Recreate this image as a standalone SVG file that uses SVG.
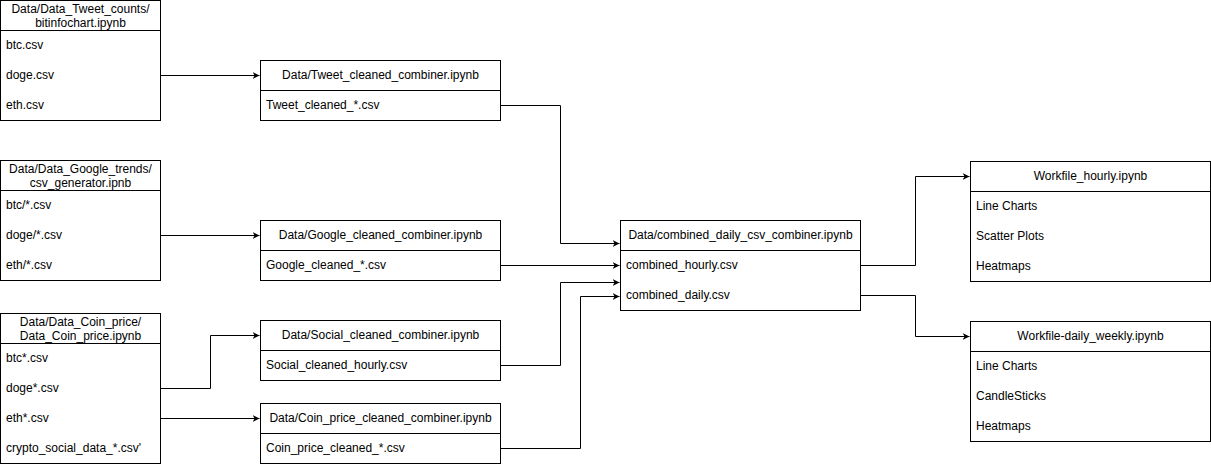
<svg xmlns="http://www.w3.org/2000/svg" width="1211" height="464" viewBox="0 0 1211 464">
<style>
.box{fill:#fff;stroke:#000;stroke-width:1}
.sep{stroke:#000;stroke-width:1}
.t{font-family:"Liberation Sans",Arial,Helvetica,sans-serif;font-size:12px;fill:#000}
.c{text-anchor:middle}
.e{fill:none;stroke:#000;stroke-width:1}
</style>
<defs>
<marker id="ah" viewBox="0 0 10 10" refX="10" refY="5" markerWidth="7" markerHeight="7" markerUnits="userSpaceOnUse" orient="auto">
<path d="M0,0 L10,5 L0,10 L3,5 Z" fill="#000"/>
</marker>
</defs>
<rect width="1211" height="464" fill="#fff"/>
<g id="connectors">
<path class="e" d="M160.5,75.5 H259.5" marker-end="url(#ah)"/>
<path class="e" d="M160.5,235.5 H259.5" marker-end="url(#ah)"/>
<path class="e" d="M160.5,388.5 H210.5 V335.5 H259.5" marker-end="url(#ah)"/>
<path class="e" d="M160.5,418.5 H259.5" marker-end="url(#ah)"/>
<path class="e" d="M500.5,105.5 H560.5 V243.5 H619.5" marker-end="url(#ah)"/>
<path class="e" d="M500.5,265.5 H619.5" marker-end="url(#ah)"/>
<path class="e" d="M500.5,365.5 H560.5 V282.5 H619.5" marker-end="url(#ah)"/>
<path class="e" d="M500.5,448.5 H580.5 V296.5 H619.5" marker-end="url(#ah)"/>
<path class="e" d="M860.5,265.5 H915.5 V176.5 H969.5" marker-end="url(#ah)"/>
<path class="e" d="M860.5,295.5 H915.5 V336.5 H969.5" marker-end="url(#ah)"/>
</g>
<g id="node-tweet-counts">
<rect class="box" x="0.5" y="0.5" width="160" height="120"/>
<line class="sep" x1="0.5" y1="30.5" x2="160.5" y2="30.5"/>
<text class="t c" x="80.5" y="13">Data/Data_Tweet_counts/</text>
<text class="t c" x="80.5" y="27">bitinfochart.ipynb</text>
<text class="t" x="6" y="49">btc.csv</text>
<text class="t" x="6" y="79">doge.csv</text>
<text class="t" x="6" y="109">eth.csv</text>
</g>
<g id="node-google-trends">
<rect class="box" x="0.5" y="160.5" width="160" height="120"/>
<line class="sep" x1="0.5" y1="190.5" x2="160.5" y2="190.5"/>
<text class="t c" x="80.5" y="173">Data/Data_Google_trends/</text>
<text class="t c" x="80.5" y="187">csv_generator.ipnb</text>
<text class="t" x="6" y="209">btc/*.csv</text>
<text class="t" x="6" y="239">doge/*.csv</text>
<text class="t" x="6" y="269">eth/*.csv</text>
</g>
<g id="node-coin-price">
<rect class="box" x="0.5" y="313.5" width="160" height="150"/>
<line class="sep" x1="0.5" y1="343.5" x2="160.5" y2="343.5"/>
<text class="t c" x="80.5" y="326">Data/Data_Coin_price/</text>
<text class="t c" x="80.5" y="340">Data_Coin_price.ipynb</text>
<text class="t" x="6" y="362">btc*.csv</text>
<text class="t" x="6" y="392">doge*.csv</text>
<text class="t" x="6" y="422">eth*.csv</text>
<text class="t" x="6" y="452">crypto_social_data_*.csv'</text>
</g>
<g id="node-tweet-cleaned">
<rect class="box" x="260.5" y="60.5" width="240" height="60"/>
<line class="sep" x1="260.5" y1="90.5" x2="500.5" y2="90.5"/>
<text class="t c" x="380.5" y="79">Data/Tweet_cleaned_combiner.ipynb</text>
<text class="t" x="266" y="109">Tweet_cleaned_*.csv</text>
</g>
<g id="node-google-cleaned">
<rect class="box" x="260.5" y="220.5" width="240" height="60"/>
<line class="sep" x1="260.5" y1="250.5" x2="500.5" y2="250.5"/>
<text class="t c" x="380.5" y="239">Data/Google_cleaned_combiner.ipynb</text>
<text class="t" x="266" y="269">Google_cleaned_*.csv</text>
</g>
<g id="node-social-cleaned">
<rect class="box" x="260.5" y="320.5" width="240" height="60"/>
<line class="sep" x1="260.5" y1="350.5" x2="500.5" y2="350.5"/>
<text class="t c" x="380.5" y="339">Data/Social_cleaned_combiner.ipynb</text>
<text class="t" x="266" y="369">Social_cleaned_hourly.csv</text>
</g>
<g id="node-coin-cleaned">
<rect class="box" x="260.5" y="403.5" width="240" height="60"/>
<line class="sep" x1="260.5" y1="433.5" x2="500.5" y2="433.5"/>
<text class="t c" x="380.5" y="422">Data/Coin_price_cleaned_combiner.ipynb</text>
<text class="t" x="266" y="452">Coin_price_cleaned_*.csv</text>
</g>
<g id="node-combined">
<rect class="box" x="620.5" y="220.5" width="240" height="90"/>
<line class="sep" x1="620.5" y1="250.5" x2="860.5" y2="250.5"/>
<text class="t c" x="740.5" y="239">Data/combined_daily_csv_combiner.ipynb</text>
<text class="t" x="626" y="269">combined_hourly.csv</text>
<text class="t" x="626" y="299">combined_daily.csv</text>
</g>
<g id="node-workfile-hourly">
<rect class="box" x="970.5" y="161.5" width="240" height="120"/>
<line class="sep" x1="970.5" y1="191.5" x2="1210.5" y2="191.5"/>
<text class="t c" x="1090.5" y="180">Workfile_hourly.ipynb</text>
<text class="t" x="976" y="210">Line Charts</text>
<text class="t" x="976" y="240">Scatter Plots</text>
<text class="t" x="976" y="270">Heatmaps</text>
</g>
<g id="node-workfile-daily">
<rect class="box" x="970.5" y="321.5" width="240" height="120"/>
<line class="sep" x1="970.5" y1="351.5" x2="1210.5" y2="351.5"/>
<text class="t c" x="1090.5" y="340">Workfile-daily_weekly.ipynb</text>
<text class="t" x="976" y="370">Line Charts</text>
<text class="t" x="976" y="400">CandleSticks</text>
<text class="t" x="976" y="430">Heatmaps</text>
</g>
</svg>
